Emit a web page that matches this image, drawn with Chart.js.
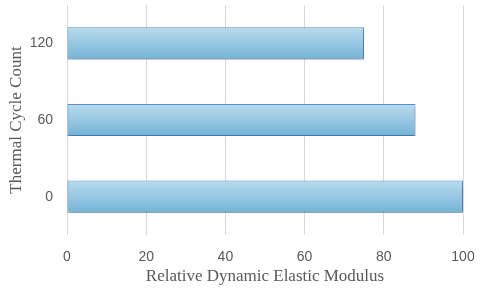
<!DOCTYPE html>
<html>
<head>
<meta charset="utf-8">
<script src="https://cdn.jsdelivr.net/npm/chart.js@4"></script>
<style>
  html, body { margin: 0; padding: 0; background: #fff; }
  #wrap { width: 480px; height: 289px; }
</style>
</head>
<body>
<div id="wrap"><canvas id="chart"></canvas></div>
<script>
// === Data ===
const cycleLabels = ['120', '60', '0'];
const modulusValues = [75, 88, 100];
const xTicks = [0, 20, 40, 60, 80, 100];

const CAT_PCT = 0.84;
const BAR_PCT = 0.5;

// gradient per bar, from light top to darker bottom
function barGradient(context) {
  const chart = context.chart;
  const y = chart.scales.y;
  if (!y || context.dataIndex === undefined) return '#9ccbe4';
  const center = y.getPixelForValue(context.dataIndex);
  const half = (y.height / cycleLabels.length) * CAT_PCT * BAR_PCT / 2;
  if (!isFinite(center) || !isFinite(half) || half <= 0) return '#9ccbe4';
  const g = chart.ctx.createLinearGradient(0, center - half, 0, center + half);
  g.addColorStop(0, '#b9dcee');
  g.addColorStop(1, '#74b3d6');
  return g;
}

const barShadow = {
  id: 'barShadow',
  beforeDatasetsDraw(chart) {
    const ctx = chart.ctx;
    ctx.save();
    ctx.shadowColor = 'rgba(0,0,0,0.28)';
    ctx.shadowBlur = 5;
    ctx.shadowOffsetX = 1;
    ctx.shadowOffsetY = 3;
  },
  afterDatasetsDraw(chart) {
    chart.ctx.restore();
  }
};

new Chart(document.getElementById('chart'), {
  type: 'bar',
  data: {
    labels: cycleLabels,
    datasets: [{
      data: modulusValues,
      backgroundColor: barGradient,
      borderColor: '#5b8fcf',
      borderWidth: 1,
      borderSkipped: false,
      categoryPercentage: CAT_PCT,
      barPercentage: BAR_PCT
    }]
  },
  plugins: [barShadow],
  options: {
    indexAxis: 'y',
    responsive: true,
    maintainAspectRatio: false,
    animation: false,
    layout: { padding: { top: 5, right: 0, left: 6, bottom: 2 } },
    plugins: {
      legend: { display: false },
      tooltip: { enabled: false }
    },
    scales: {
      x: {
        min: 0,
        max: 100,
        afterBuildTicks(axis) {
          axis.ticks = xTicks.map(v => ({ value: v }));
        },
        afterFit(axis) {
          axis.height = 52;
          axis.paddingRight = 17;
          axis.paddingLeft = 0;
        },
        grid: { color: '#d9d9d9', drawTicks: false },
        border: { display: false },
        ticks: {
          color: '#595959',
          padding: 14,
          font: { family: 'Liberation Sans', size: 14 }
        },
        title: {
          display: true,
          text: 'Relative Dynamic Elastic Modulus',
          color: '#595959',
          padding: { top: 2, bottom: 0 },
          font: { family: 'Liberation Serif', size: 17 }
        }
      },
      y: {
        afterFit(axis) {
          axis.width = 61;
          axis.paddingTop = 0;
          axis.paddingBottom = 0;
        },
        grid: { display: false },
        border: { display: false },
        ticks: {
          color: '#595959',
          padding: 6,
          font: { family: 'Liberation Sans', size: 14 }
        },
        title: {
          display: true,
          text: 'Thermal Cycle Count',
          color: '#595959',
          padding: { top: 0, bottom: 4 },
          font: { family: 'Liberation Serif', size: 17 }
        }
      }
    }
  }
});
</script>
</body>
</html>
